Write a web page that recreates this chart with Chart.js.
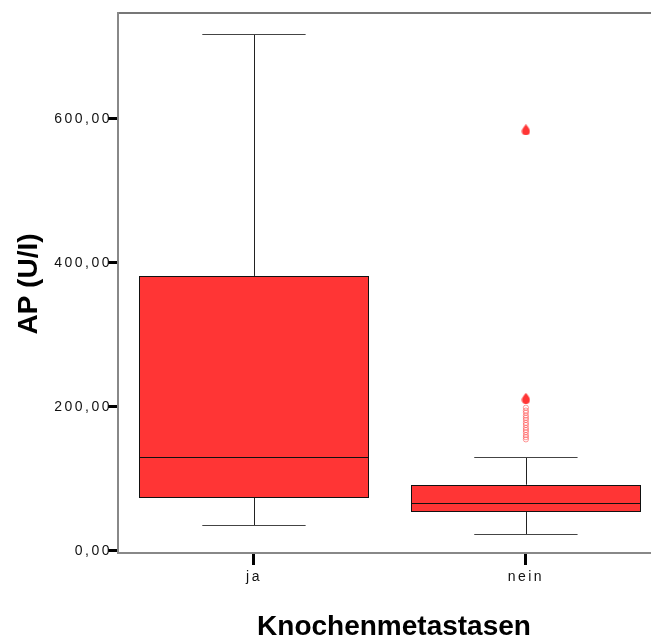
<!DOCTYPE html>
<html lang="de">
<head>
  <meta charset="UTF-8">
  <title>AP (U/I) nach Knochenmetastasen</title>
  <script src="https://cdn.jsdelivr.net/npm/chart.js"></script>
  <style>
    html, body { margin: 0; background: #fff; overflow: hidden; }
    #boxChart { display: block; }
  </style>
</head>
<body>
  <canvas id="boxChart" width="651" height="642"></canvas>

  <script>
    // Kategorien und Kennwerte je Gruppe
    const categories = ['ja', 'nein'];
    const whiskerLow = [36, 24];
    const quartile1 = [75, 56];
    const medians = [131, 67];
    const quartile3 = [382, 92];
    const whiskerHigh = [718, 131];

    // Ausreisser der Gruppe "nein"
    const extremeValues = [585, 212];
    const outlierValues = [199, 195, 192, 188, 185, 182, 178, 175, 171, 168, 165, 161, 158, 155];

    const yTicks = [0, 200, 400, 600];

    const boxRed = '#ff3535';
    const boxHalf = 0.421;
    const capHalf = 0.19;

    // Tropfenform fuer Extremwerte
    function makeDrop() {
      const c = document.createElement('canvas');
      c.width = 9; c.height = 11;
      const g = c.getContext('2d');
      g.fillStyle = boxRed;
      g.beginPath();
      g.moveTo(4.5, 0);
      g.quadraticCurveTo(8.8, 5, 8.5, 7);
      g.arc(4.5, 7, 4, 0, Math.PI, false);
      g.quadraticCurveTo(0.2, 5, 4.5, 0);
      g.fill();
      return c;
    }
    const drop = makeDrop();

    const boxPlugin = {
      id: 'boxes',
      beforeDraw(chart) {
        chart.ctx.letterSpacing = '2.5px';
      },
      beforeDatasetsDraw(chart) {
        const { ctx, scales: { x, y } } = chart;
        ctx.save();
        ctx.letterSpacing = '0px';
        categories.forEach((cat, i) => {
          const left = x.getPixelForValue(i - boxHalf);
          const right = x.getPixelForValue(i + boxHalf);
          const cx = Math.round(x.getPixelForValue(i)) + 0.5;
          const top = y.getPixelForValue(quartile3[i]);
          const bottom = y.getPixelForValue(quartile1[i]);
          const hi = Math.round(y.getPixelForValue(whiskerHigh[i])) + 0.5;
          const lo = Math.round(y.getPixelForValue(whiskerLow[i])) + 0.5;
          const capL = x.getPixelForValue(i - capHalf);
          const capR = x.getPixelForValue(i + capHalf);

          ctx.lineWidth = 1;
          ctx.strokeStyle = '#222';
          ctx.beginPath();
          ctx.moveTo(cx, hi); ctx.lineTo(cx, top);
          ctx.moveTo(cx, bottom); ctx.lineTo(cx, lo);
          ctx.stroke();

          ctx.strokeStyle = '#444';
          ctx.beginPath();
          ctx.moveTo(capL, hi); ctx.lineTo(capR, hi);
          ctx.moveTo(capL, lo); ctx.lineTo(capR, lo);
          ctx.stroke();

          const rl = Math.round(left) + 0.5, rr = Math.round(right) + 0.5;
          const rt = Math.round(top) + 0.5, rb = Math.round(bottom) + 0.5;
          ctx.fillStyle = boxRed;
          ctx.fillRect(rl, rt, rr - rl, rb - rt);
          ctx.strokeStyle = '#111';
          ctx.strokeRect(rl, rt, rr - rl, rb - rt);

          const my = Math.round(y.getPixelForValue(medians[i])) + 0.5;
          ctx.beginPath();
          ctx.moveTo(rl, my); ctx.lineTo(rr, my);
          ctx.stroke();
        });
        ctx.restore();
      },
      afterDraw(chart) {
        const { ctx } = chart;
        ctx.save();
        ctx.letterSpacing = '0px';
        ctx.fillStyle = '#000';
        ctx.font = 'bold 28px "Liberation Sans", Arial, sans-serif';
        ctx.textAlign = 'center';
        ctx.textBaseline = 'middle';
        ctx.fillText('Knochenmetastasen', 394, 627);
        ctx.translate(29, 284);
        ctx.rotate(-Math.PI / 2);
        ctx.fillText('AP (U/I)', 0, 0);
        ctx.restore();
      }
    };

    const tickFont = { family: '"Liberation Sans", Arial, sans-serif', size: 14 };

    new Chart(document.getElementById('boxChart'), {
      type: 'scatter',
      data: {
        datasets: [
          {
            data: extremeValues.map(v => ({ x: 1, y: v })),
            pointStyle: drop,
            pointRadius: 5
          },
          {
            data: outlierValues.map(v => ({ x: 1, y: v })),
            pointStyle: 'circle',
            pointRadius: 2.6,
            borderWidth: 1,
            borderColor: 'rgba(255,70,70,0.55)',
            backgroundColor: 'rgba(255,255,255,0)'
          }
        ]
      },
      options: {
        responsive: false,
        animation: false,
        layout: { padding: 0, autoPadding: false },
        plugins: { legend: { display: false }, tooltip: { enabled: false } },
        scales: {
          x: {
            type: 'linear',
            min: -0.5,
            max: 1.46,
            afterBuildTicks: s => { s.ticks = categories.map((c, i) => ({ value: i })); },
            afterFit: s => { s.height = 89; },
            ticks: {
              callback: v => categories[v],
              font: tickFont,
              color: '#111',
              padding: 4,
              maxRotation: 0
            },
            grid: { drawOnChartArea: false, tickLength: 12, tickWidth: 3, tickColor: '#000' },
            border: { color: '#888', width: 2 }
          },
          xTop: {
            type: 'linear',
            position: 'top',
            min: -0.5,
            max: 1.46,
            ticks: { display: false },
            grid: { display: false },
            afterFit: s => { s.height = 13; },
            border: { color: '#777', width: 2 }
          },
          y: {
            min: -2.8,
            max: 747.2,
            afterBuildTicks: s => { s.ticks = yTicks.map(v => ({ value: v })); },
            afterFit: s => { s.width = 118; },
            ticks: {
              callback: v => v.toFixed(2).replace('.', ','),
              font: tickFont,
              color: '#111',
              padding: -4
            },
            grid: { drawOnChartArea: false, tickLength: 10, tickWidth: 3, tickColor: '#000' },
            border: { color: '#888', width: 2 }
          }
        }
      },
      plugins: [boxPlugin]
    });
  </script>
</body>
</html>
